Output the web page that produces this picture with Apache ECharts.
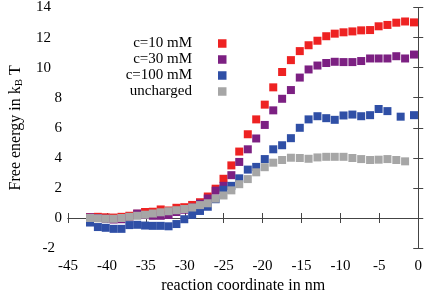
<!DOCTYPE html>
<html>
<head>
<meta charset="utf-8">
<script src="https://cdn.jsdelivr.net/npm/echarts@6/dist/echarts.min.js"></script>
<style>html,body{margin:0;padding:0;background:#fff}#c{width:425px;height:299px}</style>
</head>
<body>
<div id="c"></div>
<script>
// reaction coordinate (nm) for the common sampling grid
const xGrid = [-42.17, -41.16, -40.15, -39.14, -38.13, -37.12, -36.11, -35.10, -34.10, -33.09,
  -32.08, -31.07, -30.06, -29.05, -28.04, -27.04, -26.03, -25.02, -24.01, -23.00,
  -21.90, -20.82, -19.72, -18.63, -17.49, -16.36, -15.22, -14.09, -12.95, -11.82,
  -10.73, -9.60, -8.46, -7.33, -6.19, -5.09, -3.96, -2.82, -1.69, -0.55];

const red10mM = [0.05, 0.08, 0.05, 0.03, 0.08, 0.15, 0.28, 0.40, 0.42, 0.57,
  0.50, 0.68, 0.72, 0.87, 1.05, 1.43, 1.95, 2.61, 3.50, 4.42,
  5.57, 6.56, 7.54, 8.69, 9.71, 10.50, 11.10, 11.49, 11.79, 12.09,
  12.26, 12.35, 12.41, 12.48, 12.50, 12.75, 12.84, 12.99, 13.07, 13.01];

const purple30mM = [0.05, 0.00, -0.05, -0.10, -0.08, 0.05, 0.30, 0.20, 0.15, 0.15,
  0.20, 0.40, 0.55, 0.70, 0.95, 1.30, 1.82, 2.14, 2.85, 3.73,
  4.57, 5.29, 6.19, 7.16, 7.93, 8.51, 9.34, 9.88, 10.14, 10.31,
  10.39, 10.37, 10.37, 10.44, 10.61, 10.61, 10.61, 10.76, 10.61, 10.87];

const blueX = [-42.17, -41.16, -40.15, -39.14, -38.13, -37.12, -36.11, -35.10, -34.10, -33.09,
  -32.08, -31.07, -30.06, -29.05, -28.04, -27.04, -26.03, -25.02, -24.01, -23.00,
  -21.90, -20.82, -19.72, -18.63, -17.49, -16.36, -15.22, -14.09, -12.95, -11.82,
  -10.73, -9.60, -8.46, -7.33, -6.19, -5.09, -3.96, -2.26, -0.55];
const blue100mM = [-0.30, -0.60, -0.65, -0.72, -0.72, -0.47, -0.45, -0.50, -0.52, -0.52,
  -0.55, -0.40, -0.08, 0.21, 0.47, 0.75, 1.25, 1.88, 2.14, 2.64,
  3.22, 3.40, 3.92, 4.57, 4.84, 5.31, 6.00, 6.56, 6.77, 6.64,
  6.53, 6.82, 6.88, 6.77, 6.84, 7.25, 7.11, 6.74, 6.84];

const grayUncharged = [0.00, -0.02, -0.05, -0.05, 0.00, 0.08, 0.15, 0.22, 0.30, 0.38,
  0.45, 0.52, 0.60, 0.70, 0.86, 0.98, 1.29, 1.50, 1.84, 2.25,
  2.59, 3.04, 3.38, 3.68, 3.86, 4.01, 3.99, 3.94, 4.03, 4.07,
  4.07, 4.07, 3.99, 3.92, 3.86, 3.88, 3.92, 3.86, 3.77];

const seriesNames = ['c=10 mM', 'c=30 mM', 'c=100 mM', 'uncharged'];
const seriesColors = ['#ee2222', '#7c2082', '#2f4fa6', '#a6a6a6'];

const pair = (xs, ys) => ys.map((y, i) => [xs[i], y]);
const seriesData = [pair(xGrid, red10mM), pair(xGrid, purple30mM), pair(blueX, blue100mM), pair(xGrid, grayUncharged)];

const FONT = 'Liberation Serif';
const chart = echarts.init(document.getElementById('c'), null, {renderer: 'canvas'});
const axisLine = {show: true, lineStyle: {color: '#444', width: 1}};
const tick = {show: true, inside: true, length: 5, lineStyle: {color: '#444'}};

chart.setOption({
  animation: false,
  backgroundColor: '#fff',
  grid: {left: 62, right: 5.5, top: 5.6, bottom: 44.6, containLabel: false},
  legend: {
    orient: 'vertical', align: 'right', right: 198.5, top: 35.5, padding: 0,
    itemWidth: 8.5, itemHeight: 8.5, itemGap: 0, icon: 'rect',
    textStyle: {fontFamily: FONT, fontSize: 15, color: '#000', lineHeight: 16, padding: [0, 21, 0, 0]},
    data: seriesNames
  },
  xAxis: [{
    type: 'value', min: -45, max: 0, interval: 5,
    name: 'reaction coordinate in nm', nameLocation: 'middle', nameGap: 29,
    nameTextStyle: {fontFamily: FONT, fontSize: 16, color: '#000'},
    axisLine: axisLine, axisTick: tick, splitLine: {show: false},
    axisLabel: {fontFamily: FONT, fontSize: 15, color: '#000', margin: 10}
  }, {
    type: 'value', position: 'top', min: -45, max: 0, interval: 5,
    axisLine: axisLine, axisTick: tick, splitLine: {show: false}, axisLabel: {show: false}
  }],
  yAxis: [{
    type: 'value', min: -2, max: 14, interval: 2,
    name: '{t|Free energy in k}{s|B}{t| T}', nameLocation: 'middle', nameGap: 43, nameRotate: 90,
    nameTextStyle: {fontFamily: FONT, fontSize: 16, color: '#000',
      rich: {t: {fontFamily: FONT, fontSize: 16, color: '#000'},
             s: {fontFamily: FONT, fontSize: 11, color: '#000', padding: [7, 0, 0, 0]}}},
    axisLine: axisLine, axisTick: tick, splitLine: {show: false},
    axisLabel: {fontFamily: FONT, fontSize: 15, color: '#000', margin: 6,
      formatter: v => (Math.abs(v) >= 10 ? '{w|' + v + '}' : (v < 0 ? '{n|' + v + '}' : '{d|' + v + '}')),
      rich: {d: {fontFamily: FONT, fontSize: 15, color: '#000'},
             w: {fontFamily: FONT, fontSize: 15, color: '#000', padding: [0, 11, 0, 0]},
             n: {fontFamily: FONT, fontSize: 15, color: '#000', padding: [0, 7, 0, 0]}}}
  }, {
    type: 'value', position: 'right', min: -2, max: 14, interval: 2,
    axisLine: axisLine, axisTick: tick, splitLine: {show: false}, axisLabel: {show: false}
  }],
  series: seriesNames.map((n, i) => ({
    name: n, type: 'scatter', symbol: 'rect', symbolSize: 8,
    itemStyle: {color: seriesColors[i], opacity: 1},
    data: seriesData[i], z: 2 + i
  }))
});
</script>
</body>
</html>
